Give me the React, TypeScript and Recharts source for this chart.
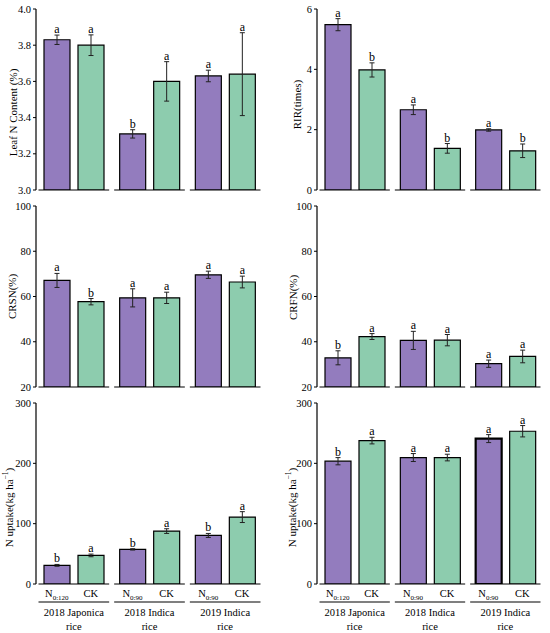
import {
  Bar,
  BarChart,
  Cell,
  ErrorBar,
  LabelList,
  XAxis,
  YAxis,
} from "recharts";

const FONT = "'Liberation Serif', 'Times New Roman', serif";
const PURPLE = "#937CBE";
const GREEN = "#8DCCAE";

const groups = ["2018 Japonica rice", "2018 Indica rice", "2019 Indica rice"];
const nRates = ["0:120", "0:90", "0:90"];

// (a) Leaf N content
const leafN = [3.83, 3.31, 3.63];
const leafNErr = [0.026, 0.023, 0.032];
const leafNLetters = ["a", "b", "a"];
const leafCK = [3.8, 3.6, 3.64];
const leafCKErr = [0.057, 0.109, 0.229];
const leafCKLetters = ["a", "a", "a"];

// (b) RIR
const rirN = [5.48, 2.66, 1.99];
const rirNErr = [0.2, 0.16, 0.04];
const rirNLetters = ["a", "a", "a"];
const rirCK = [3.98, 1.38, 1.3];
const rirCKErr = [0.235, 0.16, 0.225];
const rirCKLetters = ["b", "b", "b"];

// (c) CRSN
const crsnN = [67.1, 59.4, 69.6];
const crsnNErr = [3.1, 4.0, 1.6];
const crsnNLetters = ["a", "a", "a"];
const crsnCK = [57.7, 59.4, 66.4];
const crsnCKErr = [1.4, 2.5, 2.6];
const crsnCKLetters = ["b", "a", "a"];

// (d) CRFN
const crfnN = [32.9, 40.6, 30.3];
const crfnNErr = [3.1, 4.0, 1.6];
const crfnNLetters = ["b", "a", "a"];
const crfnCK = [42.3, 40.7, 33.5];
const crfnCKErr = [1.3, 2.5, 2.8];
const crfnCKLetters = ["a", "a", "a"];

// (e) N uptake
const upEN = [30.9, 57.4, 80.5];
const upENErr = [1.5, 1.1, 3.3];
const upENLetters = ["b", "b", "b"];
const upECK = [47.4, 87.7, 110.9];
const upECKErr = [2.2, 3.9, 9.0];
const upECKLetters = ["a", "a", "a"];

// (f) N uptake
const upFN = [203.5, 209.6, 241];
const upFNErr = [6, 6.6, 6.6];
const upFNLetters = ["b", "a", "a"];
const upFCK = [237.7, 209.6, 253.2];
const upFCKErr = [5.5, 5.5, 9.4];
const upFCKLetters = ["a", "a", "a"];

const buildRows = (
  p: number[], pe: number[], pl: string[],
  c: number[], ce: number[], cl: string[]
) =>
  groups.map((g, i) => ({
    group: g,
    nRate: nRates[i],
    p: p[i], pErr: pe[i], pLetter: pl[i],
    c: c[i], cErr: ce[i], cLetter: cl[i],
  }));

const BAR_SIZE = 26;
const BAR_GAP = 8;
const serif = { fontFamily: FONT };

const GroupTick = (props: any) => {
  const { x, y, payload, half, full, rows } = props;
  const row = rows.find((r: any) => r.group === payload.value);
  const l = x - half + 2.5;
  const r = x + half - 2.5;
  const off = BAR_SIZE / 2 + BAR_GAP / 2;
  const words = String(payload.value).split(" ");
  const line2 = words.pop();
  const line1 = words.join(" ");
  return (
    <g>
      <line x1={l} x2={r} y1={y} y2={y} stroke="#000" strokeWidth={1.2} />
      {full && (
        <>
          <text x={x - off} y={y + 13} textAnchor="middle" fontSize={10.5} style={serif} fill="#000">
            <tspan>N</tspan>
            <tspan dy={2.5} fontSize={7}>{row?.nRate}</tspan>
          </text>
          <text x={x + off} y={y + 13} textAnchor="middle" fontSize={10.5} style={serif} fill="#000">
            CK
          </text>
          <line x1={l} x2={r} y1={y + 18} y2={y + 18} stroke="#000" strokeWidth={1.2} />
          <text x={x} y={y + 32} textAnchor="middle" fontSize={10.5} style={serif} fill="#000">
            {line1}
          </text>
          <text x={x} y={y + 46} textAnchor="middle" fontSize={10.5} style={serif} fill="#000">
            {line2}
          </text>
        </>
      )}
    </g>
  );
};

const YTick = (props: any) => {
  const { x, y, payload, fmt } = props;
  return (
    <text
      x={x}
      y={y + 3.5}
      textAnchor="end"
      fontSize={10.5}
      style={serif}
      fill="#000"
    >
      {fmt ? fmt(payload.value) : payload.value}
    </text>
  );
};

const letterLabel = (rows: any[], key: "p" | "c", base: number) => (props: any) => {
  const vb = props.viewBox ?? props;
  const row = rows.find((r) => r.group === props.value);
  if (!row) return null;
  const h = Math.abs(vb.height);
  const top = Math.min(vb.y, vb.y + vb.height);
  const ppu = h / (row[key] - base);
  const errPx = row[key + "Err"] * ppu;
  return (
    <text
      x={vb.x + vb.width / 2}
      y={top - errPx - 2}
      textAnchor="middle"
      style={serif}
      fontSize={12}
      fill="#000"
    >
      {row[key + "Letter"]}
    </text>
  );
};

interface PanelProps {
  rows: any[];
  left: number;
  top: number;
  height: number;
  axisW: number;
  rightM: number;
  domain: [number, number];
  ticks: number[];
  tickFmt?: (v: number) => string;
  ylabel: React.ReactNode;
  labelX: number;
  labelShift: number;
  tag: string;
  full?: boolean;
  thickLast?: boolean;
}

const Panel = ({
  rows, left, top, height, axisW, rightM, domain, ticks, tickFmt,
  ylabel, labelX, labelShift, tag, full, thickLast,
}: PanelProps) => {
  const W = 275;
  const bottomH = full ? 49 : 7;
  const plotW = W - axisW - rightM;
  const half = plotW / groups.length / 2;
  return (
    <div style={{ position: "absolute", left, top }}>
      <BarChart
        width={W}
        height={height}
        data={rows}
        margin={{ top: 9, right: rightM, bottom: 0, left: 0 }}
        barSize={BAR_SIZE}
        barGap={BAR_GAP}
        style={serif}
      >
        <XAxis
          dataKey="group"
          xAxisId="b"
          height={bottomH}
          axisLine={false}
          tickLine={false}
          tickSize={0}
          tickMargin={0}
          interval={0}
          tick={<GroupTick half={half} full={full} rows={rows} />}
        />
        <XAxis
          dataKey="group"
          xAxisId="t"
          orientation="top"
          height={0}
          tick={false}
          tickLine={false}
          axisLine={{ stroke: "#000", strokeWidth: 1.2 }}
        />
        <YAxis
          yAxisId="l"
          width={axisW}
          domain={domain}
          ticks={ticks}
          allowDataOverflow
          interval={0}
          tickSize={3}
          tickMargin={2}
          axisLine={{ stroke: "#000", strokeWidth: 1.2 }}
          tickLine={{ stroke: "#000" }}
          tick={<YTick fmt={tickFmt} />}
          label={(p: any) => {
            const vb = p.viewBox;
            const cy = vb.y + vb.height / 2 + labelShift;
            return (
              <text
                x={labelX}
                y={cy}
                transform={`rotate(-90 ${labelX} ${cy})`}
                textAnchor="middle"
                dominantBaseline="central"
                style={serif}
                fontSize={11}
                fill="#000"
              >
                {ylabel}
              </text>
            );
          }}
        />
        <YAxis
          yAxisId="r"
          orientation="right"
          width={0}
          domain={domain}
          tick={false}
          tickLine={false}
          axisLine={{ stroke: "#000", strokeWidth: 1.2 }}
          label={(p: any) => {
            const vb = p.viewBox;
            return (
              <text
                x={vb.x - 2}
                y={vb.y + 11}
                textAnchor="end"
                style={serif}
                fontSize={12}
                fill="#000"
              >
                {tag}
              </text>
            );
          }}
        />
        <Bar
          dataKey="p"
          xAxisId="b"
          yAxisId="l"
          fill={PURPLE}
          stroke="#000"
          strokeWidth={1.2}
          isAnimationActive={false}
        >
          {rows.map((_, i) => (
            <Cell
              key={i}
              fill={PURPLE}
              stroke="#000"
              strokeWidth={thickLast && i === rows.length - 1 ? 2.2 : 1.2}
            />
          ))}
          <ErrorBar dataKey="pErr" width={2.5} stroke="#222" strokeWidth={1} />
          <LabelList dataKey="group" content={letterLabel(rows, "p", domain[0])} />
        </Bar>
        <Bar
          dataKey="c"
          xAxisId="b"
          yAxisId="l"
          fill={GREEN}
          stroke="#000"
          strokeWidth={1.2}
          isAnimationActive={false}
        >
          <ErrorBar dataKey="cErr" width={2.5} stroke="#222" strokeWidth={1} />
          <LabelList dataKey="group" content={letterLabel(rows, "c", domain[0])} />
        </Bar>
      </BarChart>
    </div>
  );
};

const uptakeLabel = (
  <>
    <tspan>N uptake(kg ha</tspan>
    <tspan dy={-4} fontSize={7.5}>−1</tspan>
    <tspan dy={4}>)</tspan>
  </>
);

export default function App() {
  return (
    <div
      style={{
        position: "absolute",
        left: 0,
        top: 0,
        width: 550,
        height: 633,
        background: "#fff",
        overflow: "hidden",
        fontFamily: FONT,
      }}
    >
      <Panel
        rows={buildRows(leafN, leafNErr, leafNLetters, leafCK, leafCKErr, leafCKLetters)}
        left={0} top={0} height={197} axisW={36} rightM={12}
        domain={[3, 4]} ticks={[3, 3.2, 3.4, 3.6, 3.8, 4]}
        tickFmt={(v) => v.toFixed(1)}
        ylabel="Leaf N Content (%)" labelX={13} labelShift={13} tag="(a)"
      />
      <Panel
        rows={buildRows(rirN, rirNErr, rirNLetters, rirCK, rirCKErr, rirCKLetters)}
        left={275} top={0} height={197} axisW={42} rightM={7}
        domain={[0, 6]} ticks={[0, 2, 4, 6]}
        ylabel="RIR(times)" labelX={22} labelShift={5} tag="(b)"
      />
      <Panel
        rows={buildRows(crsnN, crsnNErr, crsnNLetters, crsnCK, crsnCKErr, crsnCKLetters)}
        left={0} top={197} height={197} axisW={36} rightM={12}
        domain={[20, 100]} ticks={[20, 40, 60, 80, 100]}
        ylabel="CRSN(%)" labelX={12} labelShift={0} tag="(c)"
      />
      <Panel
        rows={buildRows(crfnN, crfnNErr, crfnNLetters, crfnCK, crfnCKErr, crfnCKLetters)}
        left={275} top={197} height={197} axisW={42} rightM={7}
        domain={[20, 100]} ticks={[20, 40, 60, 80, 100]}
        ylabel="CRFN(%)" labelX={18} labelShift={1} tag="(d)"
      />
      <Panel
        rows={buildRows(upEN, upENErr, upENLetters, upECK, upECKErr, upECKLetters)}
        left={0} top={394} height={239} axisW={36} rightM={12}
        domain={[0, 300]} ticks={[0, 100, 200, 300]}
        ylabel={uptakeLabel} labelX={9} labelShift={14} tag="(e)" full
      />
      <Panel
        rows={buildRows(upFN, upFNErr, upFNLetters, upFCK, upFCKErr, upFCKLetters)}
        left={275} top={394} height={239} axisW={42} rightM={7}
        domain={[0, 300]} ticks={[0, 100, 200, 300]}
        ylabel={uptakeLabel} labelX={17} labelShift={14} tag="(f)" full thickLast
      />
    </div>
  );
}
